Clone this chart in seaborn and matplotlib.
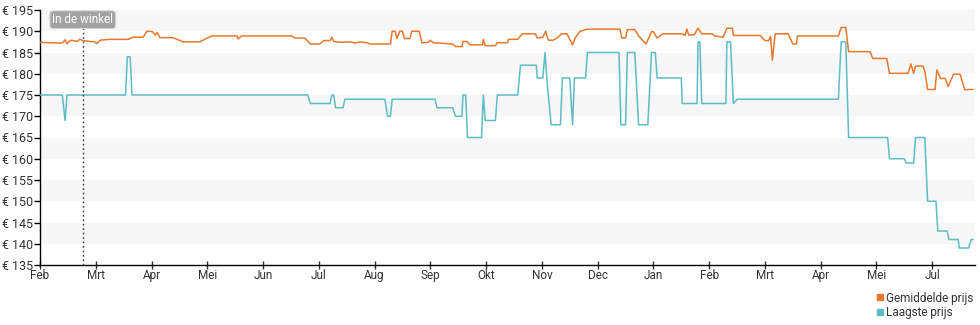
import numpy as np
import pandas as pd
import matplotlib
matplotlib.use("Agg")
import matplotlib.pyplot as plt
import matplotlib.transforms as mtransforms
from matplotlib.lines import Line2D
import seaborn as sns

# Average price per day (day index from the first of February)
avg_days = [0, 5.5, 11, 12.5, 13.5, 14.5, 15.5, 17, 20, 21.5, 23, 27, 29.5, 30.5, 32.5,
            37.5, 47.5, 50, 55.5, 57.5, 60.5, 62, 63, 64.5, 71.5, 77, 86, 89, 92.5,
            106, 106.5, 108.5, 135.5, 137, 142.5, 145.5, 150.5, 152.5, 156, 157, 158,
            161.5, 167, 169.5, 172, 176, 177.5, 188.5, 189.5, 191, 192, 193.5, 195,
            196, 199, 200, 204, 205.5, 209, 210, 211.5, 222, 223.5, 227, 227.5, 229.5,
            231.5, 238, 238.5, 239.5, 245, 246, 251.5, 252, 257, 259.5, 266.5, 267.5,
            270.5, 272, 273.5, 276, 278.5, 280.5, 283.5, 286.5, 288, 290.5, 294.5, 312,
            313, 315, 316, 320, 322, 326, 329, 330, 332, 335, 345.5, 347, 348, 349,
            352, 354, 356, 361.5, 363, 367.5, 369.5, 372.5, 373, 387.5, 390, 392, 393,
            394, 395.5, 402.5, 405, 407, 407.5, 429.5, 431, 433.5, 435, 446.5, 448,
            455.5, 457, 467, 468.5, 470, 471, 475, 476, 477.5, 481.5, 482.5, 484.5,
            487, 488.5, 491.5, 495, 497.5, 499.5, 502]
avg_price = [187.4, 187.3, 187.2, 187.4, 188.0, 187.0, 187.6, 187.9, 187.6, 188.1, 187.8,
             187.6, 187.5, 187.1, 187.9, 188.1, 188.1, 188.6, 188.6, 190.0, 189.9, 189.1,
             189.7, 188.5, 188.5, 187.5, 187.5, 188.2, 188.9, 188.9, 188.2, 188.9, 188.9,
             188.4, 188.4, 187.0, 187.0, 187.8, 187.8, 188.6, 187.6, 187.4, 187.5, 187.2,
             187.5, 187.3, 187.0, 187.0, 190.0, 190.0, 188.3, 190.0, 190.0, 188.3, 188.3,
             190.0, 190.0, 187.3, 187.4, 187.9, 187.3, 187.0, 186.4, 186.4, 187.6, 187.6,
             186.8, 186.8, 188.1, 186.6, 186.6, 187.3, 187.3, 188.1, 188.1, 189.4, 189.4,
             188.4, 188.6, 190.0, 187.9, 187.9, 188.5, 189.4, 189.4, 186.8, 188.5, 190.0,
             190.5, 190.5, 188.4, 188.4, 190.4, 190.4, 188.9, 187.0, 189.9, 189.9, 188.4,
             189.4, 189.4, 189.0, 190.5, 189.1, 189.2, 190.7, 189.4, 189.4, 188.9, 188.6,
             190.7, 190.7, 189.0, 189.0, 187.8, 187.8, 188.8, 183.2, 189.4, 189.4, 187.0,
             187.0, 188.9, 188.9, 190.9, 190.9, 185.2, 185.2, 183.6, 183.6, 180.1, 180.1,
             182.3, 180.1, 181.8, 181.8, 180.6, 176.3, 176.3, 180.9, 178.9, 178.9, 177.0,
             179.9, 179.9, 176.2, 176.3, 176.3]

# Lowest price per day
low_days = [0, 12, 13.5, 14.5, 46, 47, 48.5, 49.5, 144, 145.5, 156, 157, 158, 159, 163,
            164, 185.5, 187, 188.5, 189.5, 212.5, 213.5, 222, 223.5, 227, 227.5, 229,
            230, 237.5, 238.5, 239.5, 245, 246, 257, 258.5, 267, 267.5, 270.5, 271.7,
            273, 275, 280, 281, 285, 286.5, 287.5, 293.5, 294.5, 311.5, 312.5, 315, 316,
            320, 322, 327, 329, 331, 332, 345, 345.5, 353.5, 354, 355, 356, 369, 369.5,
            371.5, 373, 375, 429.5, 431, 433.5, 435, 456, 457, 465, 466, 470, 471, 476,
            477.5, 482, 483, 488, 489, 494, 494.5, 499.5, 501, 502]
low_price = [175, 175, 169, 175, 175, 184, 184, 175, 175, 173, 173, 175, 175, 172, 172,
             174, 174, 170, 170, 174, 174, 172, 172, 170, 170, 175, 175, 165, 165, 175,
             169, 169, 175, 175, 182, 182, 179, 179, 185, 177, 168, 168, 179, 179, 168,
             179, 179, 185, 185, 168, 168, 185, 185, 168, 168, 185, 185, 179, 179, 173,
             173, 187.5, 187.5, 173, 173, 187.5, 187.5, 173, 174, 174, 187.5, 187.5, 165,
             165, 160, 160, 159, 159, 165, 165, 150, 150, 143, 143, 141, 141, 139, 139,
             141, 141]

month_labels = ["Feb", "Mrt", "Apr", "Mei", "Jun", "Jul", "Aug", "Sep", "Okt", "Nov",
                "Dec", "Jan", "Feb", "Mrt", "Apr", "Mei", "Jul"]
price_ticks = list(range(135, 200, 5))
store_day = 23
store_label = "In de winkel"
series_names = ["Gemiddelde prijs", "Laagste prijs"]
colors = {"Gemiddelde prijs": "#E8782C", "Laagste prijs": "#5DBCC6"}

sns.set_theme(style="white")
plt.rcParams["font.family"] = ["Roboto", "DejaVu Sans"]

df = pd.concat([
    pd.DataFrame({"dag": avg_days, "prijs": avg_price, "reeks": series_names[0]}),
    pd.DataFrame({"dag": low_days, "prijs": low_price, "reeks": series_names[1]}),
], ignore_index=True)

fig = plt.figure(figsize=(9.8, 3.25), dpi=100)
ax = fig.add_axes([40 / 980, 60 / 325, 935 / 980, 255 / 325])

# alternating light bands behind the price grid
for lo in price_ticks[1::2]:
    ax.axhspan(lo, lo + 5, color="#f7f7f7", zorder=0, lw=0)

sns.lineplot(data=df, x="dag", y="prijs", hue="reeks", palette=colors,
             estimator=None, sort=False, legend=False, linewidth=1.1, ax=ax, zorder=3)

ax.axvline(store_day, color="#333333", ls=(0, (1.2, 2)), lw=1, zorder=4)
trans = mtransforms.blended_transform_factory(ax.transData, ax.transAxes)
ax.text(store_day, 0.962, store_label, transform=trans, ha="center", va="center",
        color="white", fontsize=8.5, zorder=5,
        bbox=dict(boxstyle="round,pad=0.2,rounding_size=0.3", fc="#a3a3a3",
                  ec="#d5d5d5", lw=0.8))

ax.set_xlim(0, 503)
ax.set_ylim(135, 195)
ax.set_yticks(price_ticks)
ax.set_yticklabels([f"€ {v}" for v in price_ticks])
ax.set_xticks(np.arange(len(month_labels)) * 30)
ax.set_xticklabels(month_labels)
ax.set_xlabel("")
ax.set_ylabel("")

for side in ("top", "right"):
    ax.spines[side].set_visible(False)
for side in ("left", "bottom"):
    ax.spines[side].set_color("black")
    ax.spines[side].set_linewidth(1)

ax.tick_params(axis="y", left=True, direction="out", length=4, width=1, color="black",
               labelsize=9, labelcolor="#333333", pad=1)
ax.tick_params(axis="x", bottom=True, direction="inout", length=6, width=1, color="#333333",
               labelsize=8.5, labelcolor="#333333", pad=0)

handles = [Line2D([], [], marker="s", ls="none", color=colors[n], markersize=5, label=n)
           for n in series_names]
fig.legend(handles=handles, loc="upper right", bbox_to_anchor=(0.993, 0.103),
           frameon=False, fontsize=8.5, handletextpad=0.1, labelspacing=0.15,
           handlelength=0.8, borderaxespad=0, borderpad=0, labelcolor="#333333")

fig.savefig("out.png", dpi=100)
